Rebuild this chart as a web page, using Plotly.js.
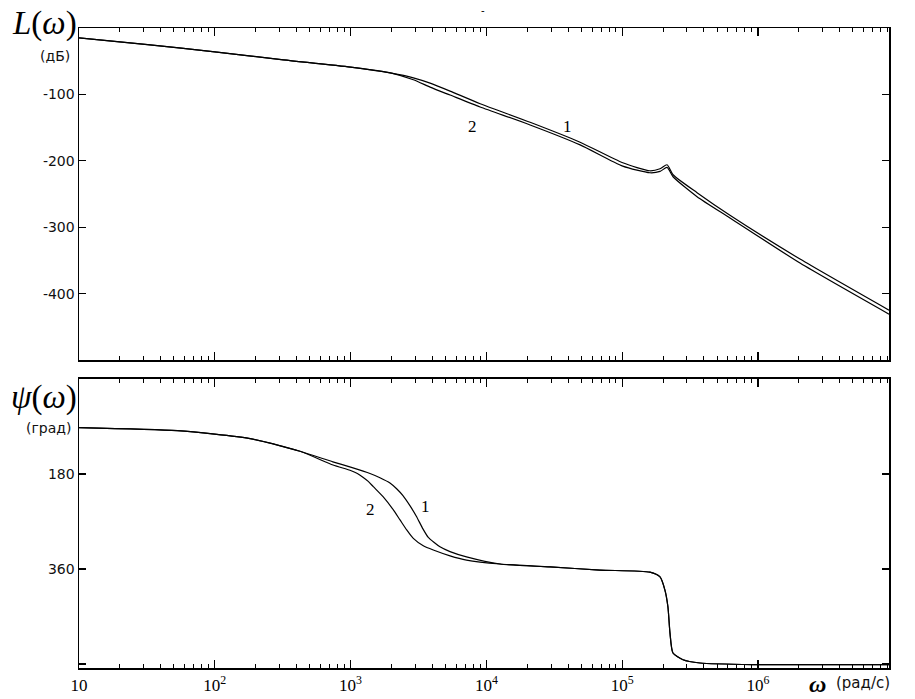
<!DOCTYPE html>
<html>
<head>
<meta charset="utf-8">
<script src="https://cdn.plot.ly/plotly-3.0.1.min.js"></script>
<style>html,body{margin:0;padding:0;background:#fff;}#chart{width:915px;height:699px;}</style>
</head>
<body>
<div id="chart"></div>
<script>
// Magnitude response L(ω), dB
const omegaL = [10, 32, 100, 320, 1000, 2000, 2900, 3850, 5400, 9000, 21000, 49000, 101000, 160000, 190000, 214000, 237000, 356000, 622000, 2040000, 9230000];
const L1 = [-15, -25, -36, -48, -59, -68, -75, -83, -95, -114, -142, -172, -203, -215, -212, -206, -221, -248, -282, -348, -425];
const L2 = [-15, -25, -36, -48, -59, -68, -78, -89, -101, -119, -146, -176, -208, -218, -216, -210, -224, -254, -286, -354, -431];

// Phase response ψ(ω), degrees
const omegaP1 = [10, 53, 182, 424, 740, 1000, 1390, 1645, 1950, 2183, 2430, 2735, 3050, 3410, 3733, 4550, 5400, 7140, 12600, 29400, 68500, 160000, 190000, 206500, 217300, 224900, 236600, 280500, 374100, 918300, 9230000];
const psi1 = [92, 98, 113, 137, 157, 167, 179, 187, 197, 208, 221, 240, 260, 284, 300, 318, 327, 337, 350.5, 356, 362, 366, 375, 400, 432, 481, 519, 532, 538, 541, 541];
const omegaP2 = [10, 53, 182, 424, 743, 990, 1122, 1233, 1349, 1470, 1734, 2065, 2312, 2590, 2897, 3430, 4064, 5400, 7140, 12600, 29400, 68500, 160000, 190000, 206500, 217300, 224900, 236600, 280500, 374100, 918300, 9230000];
const psi2 = [92, 98, 113, 137, 163, 173, 179, 186, 194, 204, 223, 248, 267, 286, 302, 316, 324, 335, 343, 350.5, 356, 362, 366, 375, 400, 432, 481, 519, 532, 538, 541, 541];

// Tick labels
const xTickVals = [10, 100, 1000, 10000, 100000, 1000000];
const xTickText = ['10', '10<sup>2</sup>', '10<sup>3</sup>', '10<sup>4</sup>', '10<sup>5</sup>', '10<sup>6</sup>'];
const yLTickVals = [-400, -300, -200, -100];
const yLTickText = ['-400', '-300', '-200', '-100'];
const yPTickVals = [180, 360, 540];
const yPTickText = ['180', '360', ' '];

// Curve labels
const labelL = [{t: '2', w: 7960, v: -149}, {t: '1', w: 39900, v: -148}];
const labelP = [{t: '2', w: 1390, v: 248}, {t: '1', w: 3590, v: 242}];

const minorVals = [];
for (let e = 1; e <= 6; e++) for (let m = 2; m <= 9; m++) minorVals.push(m * Math.pow(10, e));

const lineStyle = {color: '#000', width: 1.2, shape: 'spline', smoothing: 0.6};
const traces = [
  {x: omegaL, y: L1, xaxis: 'x', yaxis: 'y', mode: 'lines', line: lineStyle, hoverinfo: 'skip'},
  {x: omegaL, y: L2, xaxis: 'x', yaxis: 'y', mode: 'lines', line: lineStyle, hoverinfo: 'skip'},
  {x: omegaP1, y: psi1, xaxis: 'x2', yaxis: 'y2', mode: 'lines', line: lineStyle, hoverinfo: 'skip'},
  {x: omegaP2, y: psi2, xaxis: 'x2', yaxis: 'y2', mode: 'lines', line: lineStyle, hoverinfo: 'skip'}
];

const xRange = [1, 6.965];
const baseX = {
  type: 'log', range: xRange, showgrid: false, zeroline: false,
  showline: true, linecolor: '#000', linewidth: 1.5, mirror: 'ticks',
  ticks: 'inside', ticklen: 8, tickwidth: 1.2, tickcolor: '#000',
  tickmode: 'array', tickvals: xTickVals, ticktext: xTickText,
  minor: {ticks: 'inside', ticklen: 4, tickwidth: 1, tickcolor: '#000', tickmode: 'array', tickvals: minorVals, showgrid: false},
  tickfont: {family: 'Liberation Serif', size: 17, color: '#000'}
};
const baseY = {
  showgrid: false, zeroline: false, showline: true, linecolor: '#000', linewidth: 1.5,
  mirror: 'ticks', ticks: 'inside', ticklen: 7, tickwidth: 1.2, tickcolor: '#000',
  tickmode: 'array', tickfont: {family: 'DejaVu Sans', size: 14, color: '#111'}
};

const ann = [];
labelL.forEach(a => ann.push({xref: 'x', yref: 'y', x: Math.log10(a.w), y: a.v, text: a.t, showarrow: false,
  font: {family: 'Liberation Serif', size: 17, color: '#000'}}));
labelP.forEach(a => ann.push({xref: 'x2', yref: 'y2', x: Math.log10(a.w), y: a.v, text: a.t, showarrow: false,
  font: {family: 'Liberation Serif', size: 17, color: '#000'}}));
const px = v => (v - 79) / 810;
const py = v => (668 - v) / 640;
ann.push({xref: 'paper', yref: 'paper', x: px(79), y: py(24), xanchor: 'right', yanchor: 'middle', showarrow: false,
  text: '<i>L</i>(<i>ω</i>)', font: {family: 'Liberation Serif', size: 33, color: '#000'}});
ann.push({xref: 'paper', yref: 'paper', x: px(72), y: py(56), xanchor: 'right', yanchor: 'middle', showarrow: false,
  text: '(дБ)', font: {family: 'DejaVu Sans', size: 14, color: '#111'}});
ann.push({xref: 'paper', yref: 'paper', x: px(79), y: py(397), xanchor: 'right', yanchor: 'middle', showarrow: false,
  text: '<i>ψ</i>(<i>ω</i>)', font: {family: 'Liberation Serif', size: 33, color: '#000'}});
ann.push({xref: 'paper', yref: 'paper', x: px(73), y: py(428), xanchor: 'right', yanchor: 'middle', showarrow: false,
  text: '(град)', font: {family: 'DejaVu Sans', size: 14, color: '#111'}});
ann.push({xref: 'paper', yref: 'paper', x: px(828), y: py(684), xanchor: 'right', yanchor: 'middle', showarrow: false,
  text: '<b><i>ω</i></b>', font: {family: 'Liberation Serif', size: 24, color: '#000'}});
ann.push({xref: 'paper', yref: 'paper', x: px(834), y: py(683), xanchor: 'left', yanchor: 'middle', showarrow: false,
  text: '(рад/с)', font: {family: 'DejaVu Sans', size: 15, color: '#111'}});
ann.push({xref: 'paper', yref: 'paper', x: px(483), y: py(10), xanchor: 'center', yanchor: 'middle', showarrow: false,
  text: '-', font: {family: 'Liberation Sans', size: 11, color: '#000'}});

const layout = {
  width: 915, height: 699,
  margin: {l: 79, r: 26, t: 28, b: 31},
  paper_bgcolor: '#fff', plot_bgcolor: '#fff',
  showlegend: false,
  xaxis: Object.assign({}, baseX, {anchor: 'y', showticklabels: false}),
  yaxis: Object.assign({}, baseY, {domain: [0.48125, 1], range: [-500, 0], tickvals: yLTickVals, ticktext: yLTickText, anchor: 'x'}),
  xaxis2: Object.assign({}, baseX, {anchor: 'y2', showticklabels: true, ticklabelstandoff: 1}),
  yaxis2: Object.assign({}, baseY, {domain: [0, 0.4516], range: [547.5, 0], tickvals: yPTickVals, ticktext: yPTickText, anchor: 'x2'}),
  annotations: ann
};

Plotly.newPlot('chart', traces, layout, {staticPlot: true, displayModeBar: false});
</script>
</body>
</html>
